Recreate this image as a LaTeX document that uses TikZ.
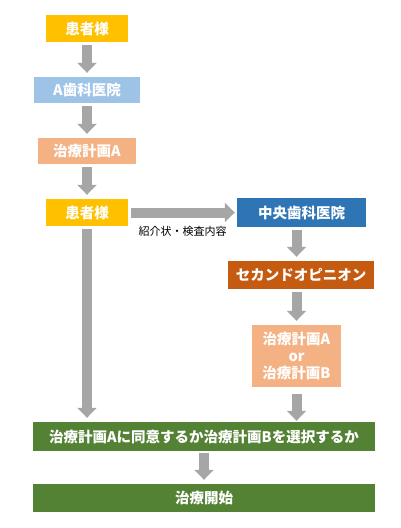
\documentclass[tikz,border=0pt]{standalone}
\usepackage{fontspec}
\setmainfont{Noto Sans CJK JP}
\usetikzlibrary{arrows.meta}
\definecolor{kanjacol}{HTML}{FFC000}
\definecolor{clinicA}{HTML}{9DC3E6}
\definecolor{plancol}{HTML}{F4B183}
\definecolor{chuocol}{HTML}{2E75B6}
\definecolor{secondcol}{HTML}{C55A11}
\definecolor{greencol}{HTML}{548235}
\definecolor{arrowgray}{HTML}{A6A6A6}
\begin{document}
\begin{tikzpicture}[x=1pt,y=-1pt,>={Triangle[width=19pt,length=10pt]}]
            \tikzset{box/.style={inner sep=0pt,text=white,font=\bfseries\fontsize{14.5}{17}\selectfont,align=center},
                     flow/.style={->,draw=arrowgray,line width=10pt,shorten <=3pt,shorten >=4pt}}
            \useasboundingbox (0,0) rectangle (401,528);
            \foreach \n/\x/\y/\w/\h/\c/\t in {kanja1/87/28.5/82/27/kanjacol/患者様,
                clinicA/87/90/106/26/clinicA/A歯科医院,
                planA/87/151/98/26/plancol/治療計画A,
                kanja2/87/212.5/82/27/kanjacol/患者様,
                chuo/301.5/212.5/129/29/chuocol/中央歯科医院,
                second/301/275/146/28/secondcol/セカンドオピニオン,
                choose/204/436.5/342/29/greencol/治療計画Aに同意するか治療計画Bを選択するか,
                start/204/498/342/28/greencol/治療開始}
            \node[box,fill=\c,minimum width=\w pt,minimum height=\h pt] (\n) at (\x,\y) {\t};
            \node[box,fill=plancol,minimum width=89pt,minimum height=62pt] (planAB) at (296.5,356) {治療計画A\\or\\治療計画B};
            \draw[flow] (kanja1.south) -- (clinicA.north);
            \draw[flow] (clinicA.south) -- (planA.north);
            \draw[flow] (planA.south) -- (kanja2.north);
            \draw[flow,shorten >=2pt] (kanja2.east) -- (chuo.west)
                node[midway,below=5pt,text=black,font=\fontsize{11}{13}\selectfont] (letter) {紹介状・検査内容};
            \draw[flow] (planAB.north |- chuo.south) -- (planAB.north |- second.north);
            \draw[flow] (planAB.north |- second.south) -- (planAB.north);
            \draw[flow] (kanja2.south) -- (kanja2.south |- choose.north);
            \draw[flow,shorten <=7pt,shorten >=1pt] (planAB.south) -- (planAB.south |- choose.north);
            \draw[flow,shorten <=2pt] (choose.south) -- (start.north);
    \end{tikzpicture}
\end{document}
